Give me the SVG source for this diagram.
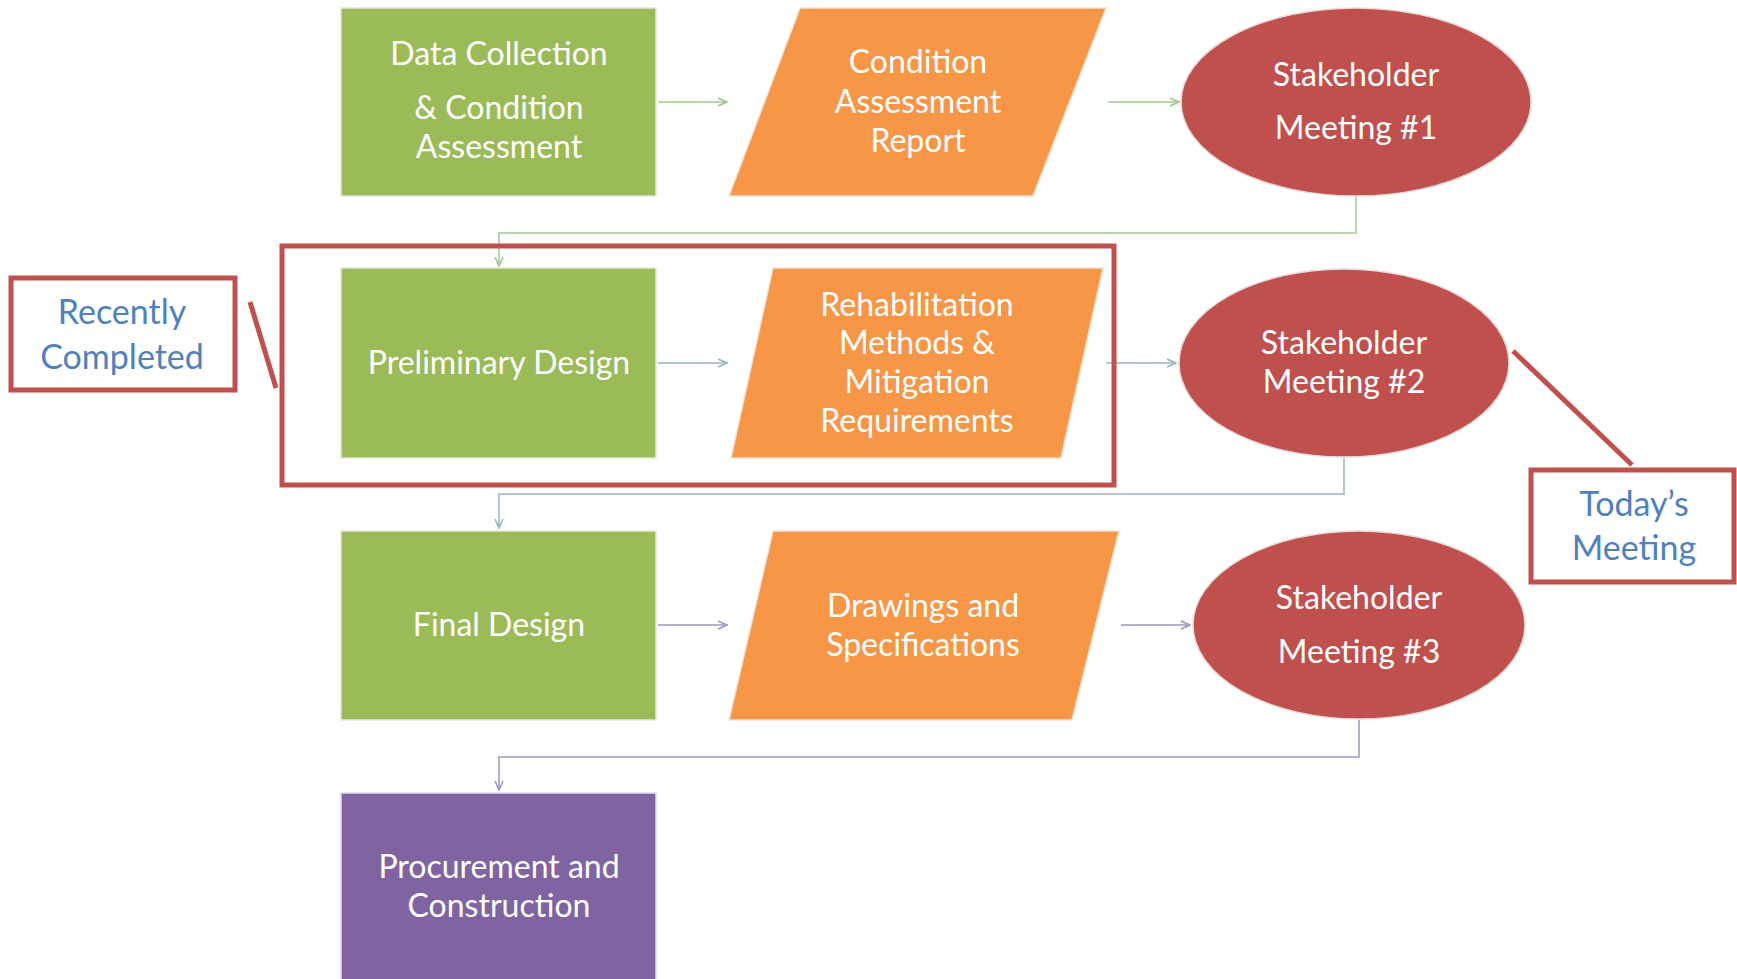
<svg xmlns="http://www.w3.org/2000/svg" width="1737" height="979" viewBox="0 0 1737 979">
<style>
.g{fill:#9BBB59;stroke:#e4e8dc;stroke-width:1.5}
.o{fill:#F79646;stroke:#f3e2d4;stroke-width:1.5}
.r{fill:#C0504D;stroke:#eadada;stroke-width:1.5}
.p{fill:#8064A2;stroke:#e2dcea;stroke-width:1.5}
.t{font-family:Lato,"Liberation Sans",sans-serif;font-size:32px;fill:#ffffff;text-anchor:middle}
.b{font-family:Lato,"Liberation Sans",sans-serif;font-size:34px;fill:#4F81BD;text-anchor:middle}
.hl{fill:none;stroke:#C0504D;stroke-width:5}
.c1{fill:none;stroke:#b8d8ac;stroke-width:2}
.c2{fill:none;stroke:#b2c8cc;stroke-width:2}
.c3{fill:none;stroke:#b4b2d0;stroke-width:2}
</style>
<defs>
<marker id="a1" viewBox="0 0 10 10" refX="9" refY="5" markerWidth="5" markerHeight="5" orient="auto"><path d="M0,1 L9,5 L0,9" fill="none" stroke="#9cc890" stroke-width="1.6"/></marker>
<marker id="a2" viewBox="0 0 10 10" refX="9" refY="5" markerWidth="5" markerHeight="5" orient="auto"><path d="M0,1 L9,5 L0,9" fill="none" stroke="#98b8c0" stroke-width="1.6"/></marker>
<marker id="a3" viewBox="0 0 10 10" refX="9" refY="5" markerWidth="5" markerHeight="5" orient="auto"><path d="M0,1 L9,5 L0,9" fill="none" stroke="#9c9ac4" stroke-width="1.6"/></marker>
</defs>
<rect width="1737" height="979" fill="#ffffff"/>
<g id="connectors">
<path class="c1" d="M658,102 H727" marker-end="url(#a1)"/>
<path class="c1" d="M1108,102 H1179" marker-end="url(#a1)"/>
<path class="c1" d="M1356,196 V233 H499 V266" marker-end="url(#a1)"/>
<path class="c2" d="M658,363 H727" marker-end="url(#a2)"/>
<path class="c2" d="M1106,363 H1176" marker-end="url(#a2)"/>
<path class="c2" d="M1344,458 V494 H499 V528" marker-end="url(#a2)"/>
<path class="c3" d="M658,625 H727" marker-end="url(#a3)"/>
<path class="c3" d="M1121,625 H1190" marker-end="url(#a3)"/>
<path class="c3" d="M1359,720 V757 H499 V790" marker-end="url(#a3)"/>
</g>
<g id="n-data-collection">
<rect class="g" x="341" y="8" width="315" height="188"/>
<text class="t" x="499" y="65">Data Collection</text>
<text class="t" x="499" y="119">&amp; Condition</text>
<text class="t" x="499" y="158">Assessment</text>
</g>
<g id="n-condition-report">
<polygon class="o" points="800,8 1106,8 1033,196 729,196"/>
<text class="t" x="918" y="73">Condition</text>
<text class="t" x="918" y="113">Assessment</text>
<text class="t" x="918" y="152">Report</text>
</g>
<g id="n-meeting1">
<ellipse class="r" cx="1356" cy="102" rx="175" ry="94"/>
<text class="t" x="1356" y="86">Stakeholder</text>
<text class="t" x="1356" y="139">Meeting #1</text>
</g>
<g id="n-preliminary">
<rect class="g" x="341" y="268" width="315" height="190"/>
<text class="t" x="499" y="374">Preliminary Design</text>
</g>
<g id="n-rehab">
<polygon class="o" points="773,268 1103,268 1061,458 731,458"/>
<text class="t" x="917" y="316">Rehabilitation</text>
<text class="t" x="917" y="354">Methods &amp;</text>
<text class="t" x="917" y="393">Mitigation</text>
<text class="t" x="917" y="432">Requirements</text>
</g>
<g id="n-meeting2">
<ellipse class="r" cx="1344" cy="363" rx="165" ry="94"/>
<text class="t" x="1344" y="354">Stakeholder</text>
<text class="t" x="1344" y="393">Meeting #2</text>
</g>
<g id="n-final">
<rect class="g" x="341" y="531" width="315" height="189"/>
<text class="t" x="499" y="636">Final Design</text>
</g>
<g id="n-drawings">
<polygon class="o" points="773,531 1119,531 1072,720 729,720"/>
<text class="t" x="923" y="617">Drawings and</text>
<text class="t" x="923" y="656">Specifications</text>
</g>
<g id="n-meeting3">
<ellipse class="r" cx="1359" cy="625" rx="166" ry="94"/>
<text class="t" x="1359" y="609">Stakeholder</text>
<text class="t" x="1359" y="663">Meeting #3</text>
</g>
<g id="n-procurement">
<rect class="p" x="341" y="793" width="315" height="200"/>
<text class="t" x="499" y="878">Procurement and</text>
<text class="t" x="499" y="917">Construction</text>
</g>
<g id="highlight-recent">
<rect class="hl" x="282" y="246" width="832" height="239"/>
<line class="hl" x1="250" y1="302" x2="276" y2="388"/>
</g>
<g id="n-recently-completed">
<rect class="hl" x="11" y="278" width="224" height="112"/>
<text class="b" x="122" y="324">Recently</text>
<text class="b" x="122" y="369">Completed</text>
</g>
<g id="n-todays-meeting">
<line class="hl" x1="1513" y1="351" x2="1632" y2="465"/>
<rect class="hl" x="1531" y="470" width="203" height="112"/>
<text class="b" x="1634" y="516">Today’s</text>
<text class="b" x="1634" y="560">Meeting</text>
</g>
</svg>
